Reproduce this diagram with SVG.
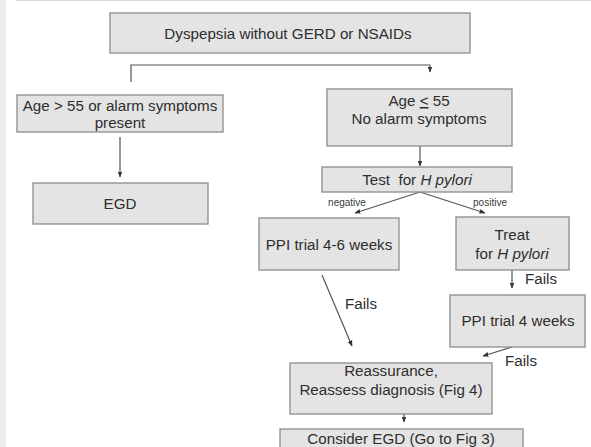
<svg xmlns="http://www.w3.org/2000/svg" width="591" height="447" viewBox="0 0 591 447">
<defs>
<style>
.box{fill:#e4e4e4;stroke:#8c8c8c;stroke-width:1.3}
.t{font-family:"Liberation Sans",Arial,sans-serif;font-size:15.2px;fill:#2e2e2e;text-anchor:middle}
.s{font-family:"Liberation Sans",Arial,sans-serif;font-size:10px;fill:#3a3a3a;text-anchor:middle}
.l{stroke:#555;stroke-width:1.2;fill:none}
</style>
<marker id="ah" viewBox="0 0 10 10" refX="9" refY="5" markerWidth="5" markerHeight="5" orient="auto-start-reverse">
<path d="M0,1 L10,5 L0,9 Z" fill="#333"/>
</marker>
</defs>
<rect x="0" y="0" width="591" height="447" fill="#ffffff"/>
<rect x="0" y="0" width="6" height="447" fill="#eeedeb"/>
<line x1="16" y1="0.5" x2="591" y2="0.5" stroke="#d8d8d8" stroke-width="1"/>

<g id="connectors">
<polyline class="l" points="131,82 131,65 430,65 430,72" marker-end="url(#ah)"/>
<line class="l" x1="120" y1="137" x2="120" y2="177" marker-end="url(#ah)"/>
<line class="l" x1="420" y1="146" x2="420" y2="166" marker-end="url(#ah)"/>
<line class="l" x1="420" y1="192" x2="355" y2="213" marker-end="url(#ah)"/>
<line class="l" x1="420" y1="192" x2="485" y2="213" marker-end="url(#ah)"/>
<text class="s" x="347" y="206">negative</text>
<text class="s" x="490" y="206">positive</text>
<line class="l" x1="512" y1="270" x2="512" y2="288" marker-end="url(#ah)"/>
<text class="t" x="541" y="284">Fails</text>
<line class="l" x1="322" y1="275" x2="352" y2="346" marker-end="url(#ah)"/>
<text class="t" x="361" y="309">Fails</text>
<line class="l" x1="512" y1="347" x2="483" y2="356" marker-end="url(#ah)"/>
<text class="t" x="521" y="366">Fails</text>
<line class="l" x1="404" y1="414" x2="404" y2="422" marker-end="url(#ah)"/>
</g>

<g id="start">
<rect class="box" x="110" y="13" width="360" height="40"/>
<text class="t" x="288" y="39">Dyspepsia without GERD or NSAIDs</text>
</g>
<g id="older">
<rect class="box" x="17" y="95" width="206" height="37"/>
<text class="t" x="120" y="111">Age &gt; 55 or alarm symptoms</text>
<text class="t" x="120" y="128">present</text>
</g>
<g id="egd">
<rect class="box" x="33" y="183" width="175" height="41"/>
<text class="t" x="120" y="209">EGD</text>
</g>
<g id="younger">
<rect class="box" x="327" y="89" width="185" height="57"/>
<text class="t" x="419" y="106">Age <tspan text-decoration="underline">&lt;</tspan> 55</text>
<text class="t" x="419" y="124">No alarm symptoms</text>
</g>
<g id="test">
<rect class="box" x="322" y="167" width="190" height="25"/>
<text class="t" x="417" y="185">Test&#160; for <tspan font-style="italic">H pylori</tspan></text>
</g>
<g id="ppi46">
<rect class="box" x="259" y="218" width="140" height="52"/>
<text class="t" x="329" y="250">PPI trial 4-6 weeks</text>
</g>
<g id="treat">
<rect class="box" x="456" y="217" width="113" height="53"/>
<text class="t" x="512" y="240">Treat</text>
<text class="t" x="512" y="259">for <tspan font-style="italic">H pylori</tspan></text>
</g>
<g id="ppi4">
<rect class="box" x="450" y="295" width="135" height="52"/>
<text class="t" x="518" y="326">PPI trial 4 weeks</text>
</g>
<g id="reassure">
<rect class="box" x="290" y="363" width="202" height="51"/>
<text class="t" x="391" y="376">Reassurance,</text>
<text class="t" x="391" y="395">Reassess diagnosis (Fig 4)</text>
</g>
<g id="consider">
<rect class="box" x="280" y="429" width="243" height="30"/>
<text class="t" x="401" y="444">Consider EGD (Go to Fig 3)</text>
</g>
</svg>
